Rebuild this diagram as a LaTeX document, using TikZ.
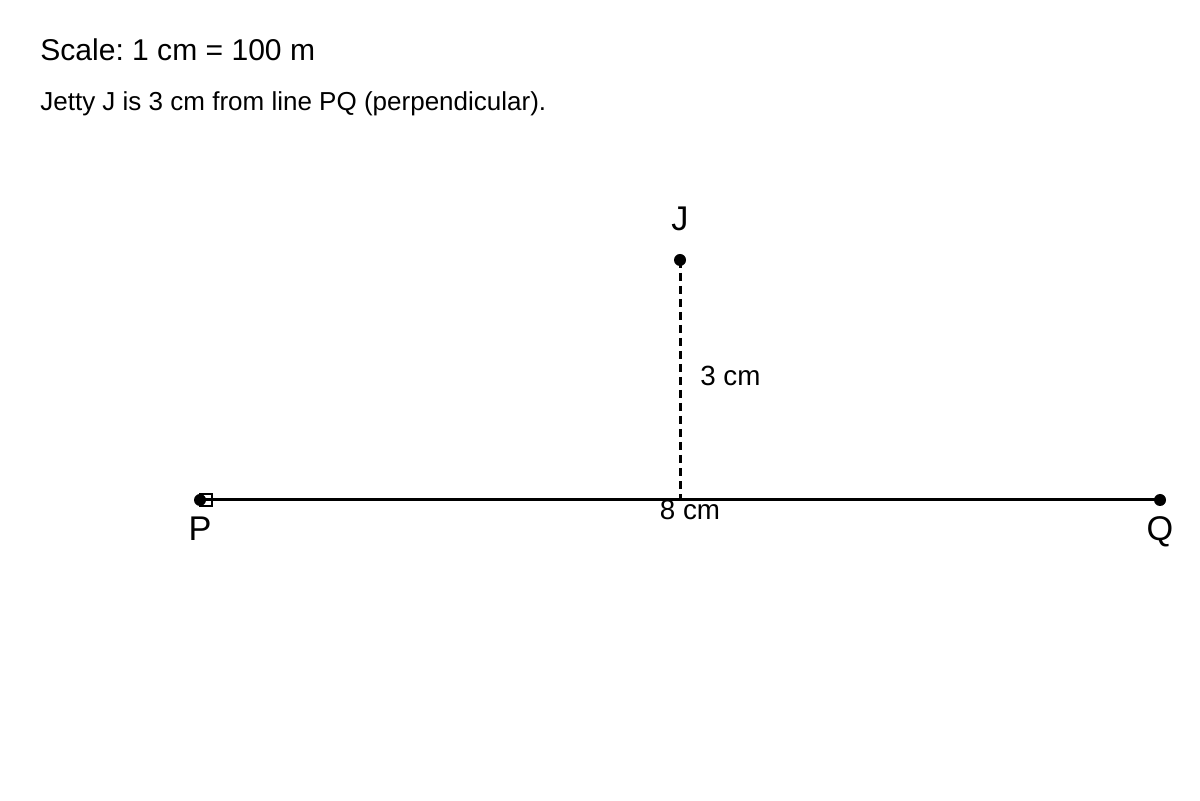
\documentclass[tikz,border=0pt]{standalone}
\usepackage{fontspec}
\setmainfont{Liberation Sans}
\usetikzlibrary{positioning}
\frenchspacing

\begin{document}
\begin{tikzpicture}[
      every node/.style={inner sep=0pt},
      pt/.style={circle, fill=black, minimum size=0.24cm},
      lbl/.style={font=\fontsize{19.5}{22}\selectfont, anchor=base},
      dim/.style={font=\fontsize{15.8}{18}\selectfont, anchor=base},
      seg/.style={line width=0.06cm},
      drop/.style={line width=0.06cm, dash pattern=on 0.16cm off 0.1cm}
    ]
      \useasboundingbox (0,0) rectangle (24,16);
      % Captions
      \node[anchor=base west, font=\fontsize{17.1}{20}\selectfont] (scale) at (0.8,14.78) {Scale: 1 cm = 100 m};
      \node[anchor=base west, font=\fontsize{14.8}{18}\selectfont] (note) at (0.8,13.78) {Jetty J is 3 cm from line PQ (perpendicular).};
      % Points
      \node[pt] (P) at (4,6) {};
      \node[pt] (Q) at (23.2,6) {};
      \node[pt] (J) at (13.6,10.8) {};
      \coordinate (F) at (13.6,6);
      \draw[seg] (P.center) -- (Q.center);
      \draw[drop] (J.center) -- (F);
      \draw[line width=0.03cm] (4,5.88) rectangle (4.24,6.12);
      % Labels
      \node[lbl] (Jl) at (13.6,11.38) {J};
      \node[lbl] (Pl) at (4,5.18) {P};
      \node[lbl] (Ql) at (23.2,5.18) {Q};
      \node[dim, anchor=base west] (h) at (14,8.28) {3 cm};
      \node[dim] (w) at (13.8,5.6) {8 cm};
    \end{tikzpicture}
\end{document}
